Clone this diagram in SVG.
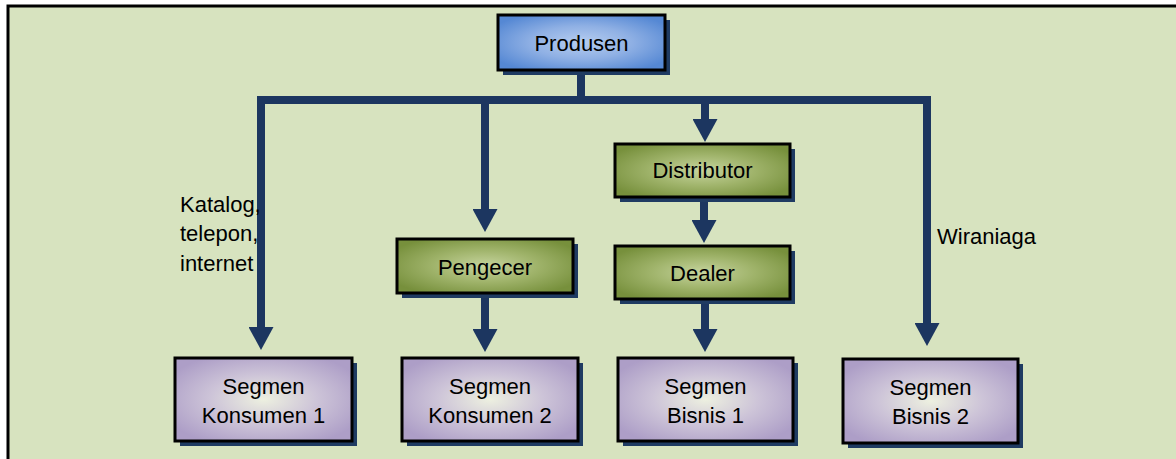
<svg xmlns="http://www.w3.org/2000/svg" width="1176" height="459" viewBox="0 0 1176 459">
<style>
  .lbl{font-family:"Liberation Sans",Arial,sans-serif;font-size:22px;fill:#000}
  .box{stroke:#000;stroke-width:3}
  .shadow{fill:#1f3b62}
  .conn{fill:none;stroke:#1c3660;stroke-width:8;stroke-linejoin:miter}
</style>
<defs>
  <radialGradient id="gBlue" cx="0.5" cy="0.5" r="0.6">
    <stop offset="0" stop-color="#b6cdf0"/>
    <stop offset="0.5" stop-color="#8fb0e4"/>
    <stop offset="1" stop-color="#5588d4"/>
  </radialGradient>
  <radialGradient id="gGreen" cx="0.5" cy="0.5" r="0.6">
    <stop offset="0" stop-color="#c6d49e"/>
    <stop offset="0.5" stop-color="#9fb36a"/>
    <stop offset="1" stop-color="#77903c"/>
  </radialGradient>
  <radialGradient id="gPurple" cx="0.5" cy="0.5" r="0.6">
    <stop offset="0" stop-color="#edf0e0"/>
    <stop offset="0.5" stop-color="#cdc4d8"/>
    <stop offset="1" stop-color="#ad9ec7"/>
  </radialGradient>
  <marker id="arr" markerUnits="userSpaceOnUse" markerWidth="23" markerHeight="25" viewBox="0 0 23 25" refX="0" refY="12.5" orient="auto">
    <path d="M0,0 L23,12.5 L0,25 Z" fill="#1c3660"/>
  </marker>
</defs>
<rect x="0" y="0" width="1176" height="459" fill="#fff"/>
<rect x="8" y="6" width="1168" height="453" fill="#d7e3bf"/>
<path d="M8,459 V6 H1176" fill="none" stroke="#000" stroke-width="3"/>

<g id="connectors">
  <path class="conn" d="M581,70 V100"/>
  <path class="conn" d="M261,330 V100 H927 V326"/>
  <path class="conn" d="M485,100 V210"/>
  <path class="conn" d="M705,100 V120"/>
  <path class="conn" d="M261,325 V327" marker-end="url(#arr)"/>
  <path class="conn" d="M927,321 V323" marker-end="url(#arr)"/>
  <path class="conn" d="M485,207 V209" marker-end="url(#arr)"/>
  <path class="conn" d="M705,117 V119" marker-end="url(#arr)"/>
  <path class="conn" d="M485,295 V329" marker-end="url(#arr)"/>
  <path class="conn" d="M704,198 V220" marker-end="url(#arr)"/>
  <path class="conn" d="M705,300 V329" marker-end="url(#arr)"/>
</g>

<g id="produsen">
  <rect class="shadow" x="503" y="20" width="167" height="55"/>
  <rect class="box" x="498" y="15" width="167" height="55" fill="url(#gBlue)"/>
  <text class="lbl" x="581.5" y="51" text-anchor="middle">Produsen</text>
</g>
<g id="pengecer">
  <rect class="shadow" x="402" y="244" width="176" height="54"/>
  <rect class="box" x="397" y="239" width="176" height="54" fill="url(#gGreen)"/>
  <text class="lbl" x="485" y="275" text-anchor="middle">Pengecer</text>
</g>
<g id="distributor">
  <rect class="shadow" x="620" y="149" width="175" height="53"/>
  <rect class="box" x="615" y="144" width="175" height="53" fill="url(#gGreen)"/>
  <text class="lbl" x="702.5" y="178" text-anchor="middle">Distributor</text>
</g>
<g id="dealer">
  <rect class="shadow" x="620" y="251" width="175" height="53"/>
  <rect class="box" x="615" y="246" width="175" height="53" fill="url(#gGreen)"/>
  <text class="lbl" x="702.5" y="281" text-anchor="middle">Dealer</text>
</g>
<g id="segmen-konsumen-1">
  <rect class="shadow" x="180" y="363" width="177" height="83"/>
  <rect class="box" x="175" y="358" width="177" height="83" fill="url(#gPurple)"/>
  <text class="lbl" x="263.5" y="394" text-anchor="middle">Segmen</text>
  <text class="lbl" x="263.5" y="423" text-anchor="middle">Konsumen 1</text>
</g>
<g id="segmen-konsumen-2">
  <rect class="shadow" x="407" y="363" width="176" height="83"/>
  <rect class="box" x="402" y="358" width="176" height="83" fill="url(#gPurple)"/>
  <text class="lbl" x="490" y="394" text-anchor="middle">Segmen</text>
  <text class="lbl" x="490" y="423" text-anchor="middle">Konsumen 2</text>
</g>
<g id="segmen-bisnis-1">
  <rect class="shadow" x="623" y="363" width="175" height="83"/>
  <rect class="box" x="618" y="358" width="175" height="83" fill="url(#gPurple)"/>
  <text class="lbl" x="705.5" y="394" text-anchor="middle">Segmen</text>
  <text class="lbl" x="705.5" y="423" text-anchor="middle">Bisnis 1</text>
</g>
<g id="segmen-bisnis-2">
  <rect class="shadow" x="848" y="364" width="175" height="84"/>
  <rect class="box" x="843" y="359" width="175" height="84" fill="url(#gPurple)"/>
  <text class="lbl" x="930.5" y="395" text-anchor="middle">Segmen</text>
  <text class="lbl" x="930.5" y="424" text-anchor="middle">Bisnis 2</text>
</g>
<g id="labels">
  <text class="lbl" x="180" y="212">Katalog,</text>
  <text class="lbl" x="180" y="241">telepon,</text>
  <text class="lbl" x="180" y="271">internet</text>
  <text class="lbl" x="937" y="244">Wiraniaga</text>
</g>
</svg>
